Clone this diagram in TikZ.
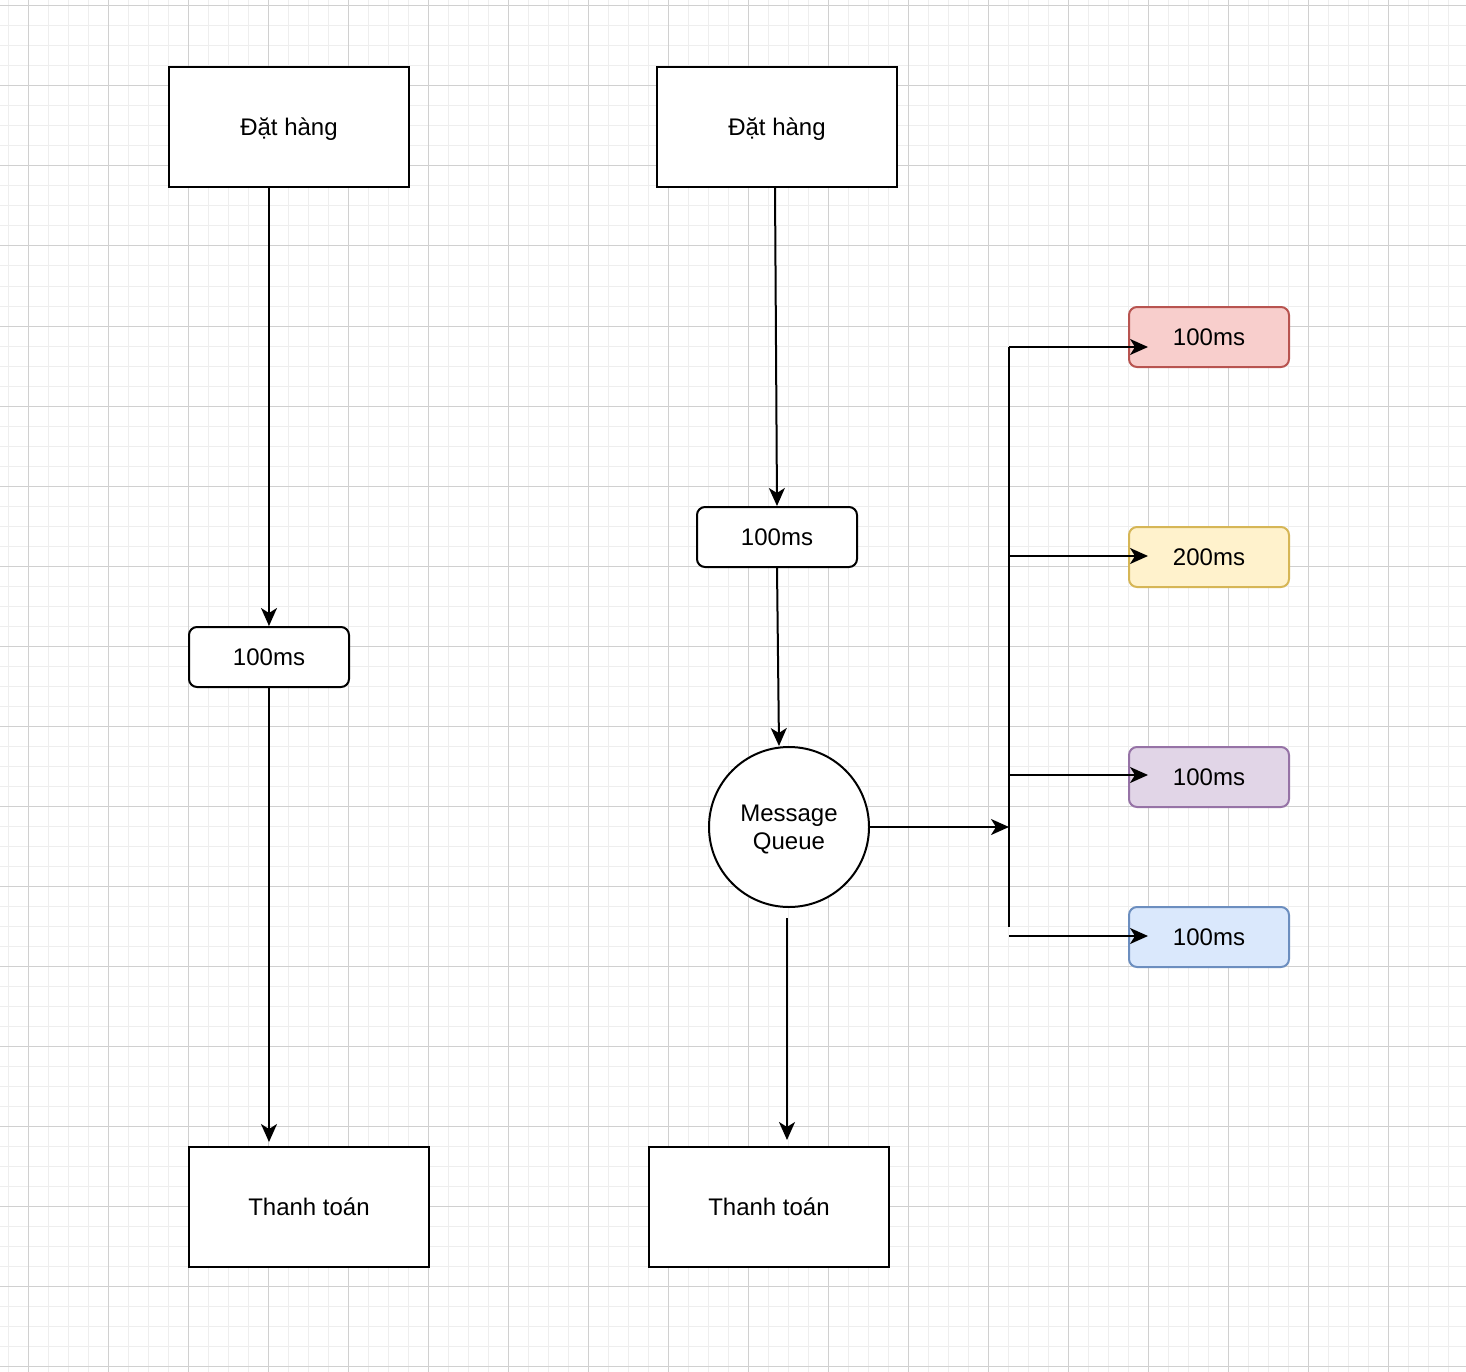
\documentclass[tikz,border=0pt]{standalone}
\usepackage{fontspec}
\setmainfont{Liberation Sans}
\usetikzlibrary{arrows.meta,calc}
\definecolor{gmajor}{HTML}{D0D0D0}
\definecolor{gminor}{HTML}{EEEEEE}
\definecolor{redfill}{HTML}{F8CECC}\definecolor{redline}{HTML}{B85450}
\definecolor{yelfill}{HTML}{FFF2CC}\definecolor{yelline}{HTML}{D6B656}
\definecolor{purfill}{HTML}{E1D5E7}\definecolor{purline}{HTML}{9673A6}
\definecolor{blufill}{HTML}{DAE8FC}\definecolor{bluline}{HTML}{6C8EBF}
\begin{document}
\begin{tikzpicture}[x=1pt,y=-1pt,
  txt/.style={font=\fontsize{24}{28}\selectfont, align=center, text=black},
  one/.style={txt, text height=17.2pt, text depth=0pt},
  box/.style={one, draw, line width=2pt, fill=white, minimum width=240pt, minimum height=120pt, inner sep=0pt},
  rbox/.style={one, draw, line width=2pt, fill=white, rounded corners=8pt, minimum width=160pt, minimum height=60pt, inner sep=0pt},
  cbox/.style={rbox, draw=#1line, fill=#1fill},
  arr/.style={line width=2pt, -{Stealth[length=18pt,width=16pt,inset=5pt]}},
  bus/.style={line width=2pt}]
\useasboundingbox (0,0) rectangle (1466,1372);
\fill[white] (0,0) rectangle (1466,1372);
% grid
\foreach \x in {8,28,...,1448} \draw[gminor, line width=1pt] (\x,0) -- (\x,1372);
\foreach \y in {6,26,...,1366} \draw[gminor, line width=1pt] (0,\y) -- (1466,\y);
\foreach \x in {28,108,...,1428} \draw[gmajor, line width=1pt] (\x,0) -- (\x,1372);
\foreach \y in {6,86,...,1366} \draw[gmajor, line width=1pt] (0,\y) -- (1466,\y);

% left column
\node[box] (a1) at (289,127) {Đặt hàng};
\node[rbox] (b1) at (269,657) {100ms};
\node[box] (c1) at (309,1207) {Thanh toán};

% right column
\node[box] (a2) at (777,127) {Đặt hàng};
\node[rbox] (b2) at (777,537) {100ms};
\node[circle, draw, line width=2pt, fill=white, minimum size=160pt, inner sep=0pt] (mq) at (789,827) {};
\node[txt, inner sep=0pt] (mqt) at (789,830) {Message\\Queue};
\node[box] (c2) at (769,1207) {Thanh toán};

% coloured boxes
\node[cbox=red] (r) at (1209,337) {100ms};
\node[cbox=yel] (y) at (1209,557) {200ms};
\node[cbox=pur] (p) at (1209,777) {100ms};
\node[cbox=blu] (u) at (1209,937) {100ms};

% connectors
\draw[arr] (b1.north |- a1.south) -- (b1.north);
\draw[arr, shorten >=4pt] (b1.south) -- (b1.south |- c1.north);
\draw[arr] ($(a2.south)+(-2,0)$) -- (b2.north);
\draw[arr] (b2.south) -- ($(mq.north)+(-10,0)$);
\coordinate (mqs) at ($(mq.south)+(-2,10)$);
\coordinate (c2t) at (mqs |- c2.north);
\draw[arr, shorten >=6pt] (mqs) -- (c2t);

\coordinate (bt) at (1009,347);
\coordinate (bb) at (1009,927);
\draw[bus] (bt) -- (bb);
\draw[arr] (mq.east) -- (mq.east -| bt);
\draw[arr] (bt) -- ($(r.west)+(20,10)$);
\draw[arr] ($(bt |- y.west)+(0,-1)$) -- ($(y.west)+(20,-1)$);
\draw[arr] ($(bt |- p.west)+(0,-2)$) -- ($(p.west)+(20,-2)$);
\draw[arr] ($(bt |- u.west)+(0,-1)$) -- ($(u.west)+(20,-1)$);
\end{tikzpicture}
\end{document}
